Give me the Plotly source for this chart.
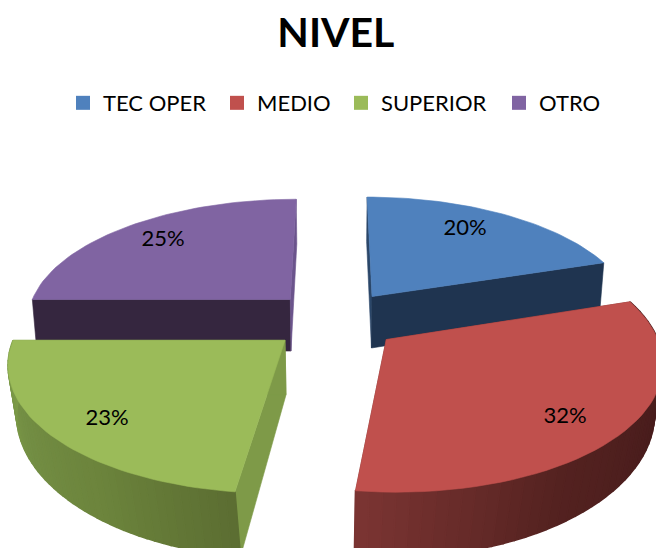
import math
import plotly.graph_objects as go

categories = ["TEC OPER", "MEDIO", "SUPERIOR", "OTRO"]
values = [20, 32, 23, 25]
top_colors = ["#4F81BD", "#C0504D", "#9BBB59", "#8064A2"]
title_text = "NIVEL"

# projection of the tilted pie onto the page
CX, CY, R, TILT, PERSP, EXPLODE, HEIGHT = 335, 320, 265, 0.46, 0.157, 0.245, 53
W, H = 656, 548
cut_colors = {0: ("#2B4769", "#1F3450"), 1: ("#7A302E", "#7A302E"),
              2: ("#7E9A48", "#7E9A48"), 3: ("#35263F", "#6B548C")}
wall_ramps = {1: [(72, 28, 28), (72, 28, 28), (84, 34, 32), (122, 52, 50)],
              2: [(92, 110, 50), (108, 132, 60), (115, 142, 68), (125, 156, 72)]}
label_xy = [(465, 229), (565, 417), (107, 419), (163, 240)]
legend_text_x = [102, 256, 380, 538]


def project(x, y, drop=0.0):
    w = 1 / (1 + PERSP * y)
    sx = CX + R * x * w
    sy = CY - R * TILT * y * w
    if drop:
        sx = CX + (sx - CX) * (0.985 + 0.035 * min(y, 0))
        sy += drop * w
    return sx, sy


def hex_of(c):
    return "#%02X%02X%02X" % tuple(int(round(v)) for v in c)


def ramp(stops, t):
    p = t * (len(stops) - 1)
    i = min(int(p), len(stops) - 2)
    f = p - i
    return [stops[i][k] + (stops[i + 1][k] - stops[i][k]) * f for k in range(3)]


def poly(pts, color, lw=0.6):
    xs = [p[0] for p in pts] + [pts[0][0]]
    ys = [p[1] for p in pts] + [pts[0][1]]
    return go.Scatter(x=xs, y=ys, mode="lines", fill="toself", fillcolor=color,
                      line=dict(color=color, width=lw), hoverinfo="skip", showlegend=False)


total = sum(values)
spans, start = [], 0.0
for v in values:
    end = start + v / total * 360
    spans.append((start, end))
    start = end


def geometry(i):
    a0, a1 = spans[i]
    mid = math.radians((a0 + a1) / 2)
    ox, oy = EXPLODE * math.sin(mid), EXPLODE * math.cos(mid)
    n = 48
    rim = []
    for k in range(n + 1):
        a = math.radians(a0 + (a1 - a0) * k / n)
        rim.append((ox + math.sin(a), oy + math.cos(a)))
    return (ox, oy), rim


fig = go.Figure()
for i in [3, 0, 2, 1]:
    apex, rim = geometry(i)
    # radial cut faces
    for end_pt, col in zip((rim[0], rim[-1]), cut_colors[i]):
        fig.add_trace(poly([project(*apex), project(*end_pt),
                            project(*end_pt, HEIGHT), project(*apex, HEIGHT)], col))
    # outer wall (front slices only), shaded in strips
    if i in wall_ramps:
        for k in range(len(rim) - 1):
            t = k / (len(rim) - 2)
            col = hex_of(ramp(wall_ramps[i], t))
            fig.add_trace(poly([project(*rim[k]), project(*rim[k + 1]),
                                project(*rim[k + 1], HEIGHT), project(*rim[k], HEIGHT)], col, 1.6))
    # top face
    fig.add_trace(poly([project(*apex)] + [project(*p) for p in rim], top_colors[i]))

# percentage labels
fig.add_trace(go.Scatter(
    x=[p[0] for p in label_xy], y=[p[1] for p in label_xy], mode="text",
    text=[f"{round(v / total * 100)}%" for v in values],
    textposition="middle center", textfont=dict(family="Lato", size=22, color="#000000"),
    hoverinfo="skip", showlegend=False))

# legend keys: one legend per entry so each sits at its own place
legend_layout = {}
for j, (name, color, tx) in enumerate(zip(categories, top_colors, legend_text_x)):
    key = "legend" if j == 0 else f"legend{j + 1}"
    fig.add_trace(go.Scatter(x=[None], y=[None], mode="markers", name=name, legend=key, showlegend=True,
                             marker=dict(symbol="square", size=14, color=color)))
    legend_layout[key] = dict(x=(tx - 39) / W, xanchor="left", y=0.812, yanchor="middle",
                              font=dict(family="Lato", size=22, color="#000000"),
                              bgcolor="rgba(0,0,0,0)", orientation="h")

fig.update_layout(
    width=W, height=H, margin=dict(l=0, r=0, t=0, b=0),
    paper_bgcolor="white", plot_bgcolor="white",
    xaxis=dict(range=[0, W], visible=False, fixedrange=True),
    yaxis=dict(range=[H, 0], visible=False, fixedrange=True),
    title=dict(text=f"<b>{title_text}</b>", x=0.512, xanchor="center", y=0.94, yanchor="middle",
               font=dict(family="Lato", size=41, color="#000000")),
    **legend_layout,
)
fig.write_html("out.html", config={"displayModeBar": False},
               post_script="document.body.style.margin='0';document.documentElement.style.overflow='hidden';")
